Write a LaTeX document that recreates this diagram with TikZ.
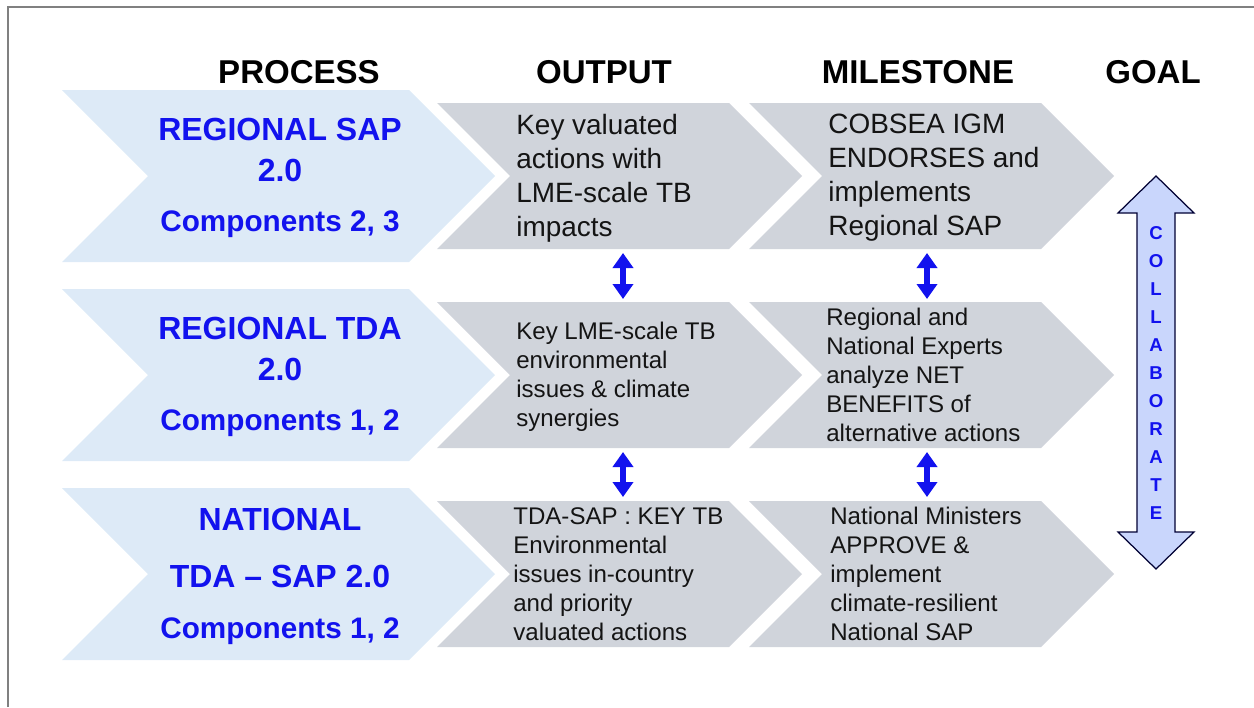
\documentclass[tikz,border=0pt]{standalone}
\usepackage{fontspec}
\setmainfont{Liberation Sans}
\usepackage{xcolor}
\usetikzlibrary{arrows.meta}
\definecolor{procblue}{RGB}{221,234,247}
\definecolor{outgray}{RGB}{208,212,219}
\definecolor{textblue}{RGB}{18,18,238}
\definecolor{collabfill}{RGB}{201,214,252}
\definecolor{framegray}{RGB}{128,128,128}
\tikzset{
	header/.style={font=\bfseries\fontsize{18.8}{22}\selectfont, text=black, anchor=base},
	proc/.style={font=\bfseries\fontsize{18.2}{22.8}\selectfont, text=textblue, align=center},
	comp/.style={font=\bfseries\fontsize{16.9}{19}\selectfont, text=textblue, anchor=base},
	outtext/.style={anchor=west, align=left, text=black!92, inner sep=0pt},
	big/.style={font=\fontsize{15.9}{19.35}\selectfont},
	small/.style={font=\fontsize{13.7}{16.5}\selectfont},
	link/.style={draw=textblue, line width=3.6pt, {Triangle[width=0.4cm,length=0.3cm]}-{Triangle[width=0.4cm,length=0.3cm]}}
}
% fill, left x, top y, body width, height
\newcommand{\chevron}[5]{\fill[#1] (#2,#3) -- ++(#4,0) -- ++(#5/2,#5/2) -- ++(-#5/2,#5/2) -- ++(-#4,0) -- ++(#5/2,-#5/2) -- cycle;}

\begin{document}
\begin{tikzpicture}[x=0.02cm, y=-0.02cm]
	\useasboundingbox (0,0) rectangle (1254,707);
	\draw[framegray, line width=1.1pt] (8,707) -- (8,7) -- (1254,7);
	
	% chevrons
	\foreach \y in {90,289,488} {\chevron{procblue}{62}{\y}{347}{172}}
	\foreach \y in {103,302,501} {
		\chevron{outgray}{437}{\y}{292}{146}
		\chevron{outgray}{749}{\y}{292}{146}
	}
	
	% headers
	\node[header] (hp) at (299,83) {PROCESS};
	\node[header] (ho) at (604,83) {OUTPUT};
	\node[header] (hm) at (918,83) {MILESTONE};
	\node[header] (hg) at (1153,83) {GOAL};
	
	% process
	\node[proc] (p1) at (280,150) {REGIONAL SAP\\2.0};
	\node[comp] (c1) at (280,231) {Components 2, 3};
	\node[proc] (p2) at (280,349) {REGIONAL TDA\\2.0};
	\node[comp] (c2) at (280,430) {Components 1, 2};
	\node[proc, font=\bfseries\fontsize{18.2}{31.9}\selectfont] (p3) at (280,548) {NATIONAL\\TDA – SAP 2.0};
	\node[comp] (c3) at (280,638) {Components 1, 2};
	
	% output and milestone
	\node[outtext, big] (o1) at (516,178) {Key valuated\\actions with\\LME-scale TB\\impacts};
	\node[outtext, big] (m1) at (828,178) {COBSEA IGM\\ENDORSES and\\implements\\Regional SAP};
	\node[outtext, small] (o2) at (516,377) {Key LME-scale TB\\environmental\\issues \& climate\\synergies};
	\node[outtext, small] (m2) at (826,375) {Regional and\\National Experts\\analyze NET\\BENEFITS of\\alternative actions};
	\node[outtext, small] (o3) at (513,574) {TDA-SAP : KEY TB\\Environmental\\issues in-country\\and priority\\valuated actions};
	\node[outtext, small] (m3) at (830,574) {National Ministers\\APPROVE \&\\implement\\climate-resilient\\National SAP};
	
	% links between rows
	\coordinate (o1s) at (623,253); \coordinate (o2n) at (623,299);
	\coordinate (o2s) at (623,452); \coordinate (o3n) at (623,497);
	\coordinate (m1s) at (927,253); \coordinate (m2n) at (927,299);
	\coordinate (m2s) at (927,452); \coordinate (m3n) at (927,497);
	\draw[link] (o1s) -- (o2n);
	\draw[link] (o2s) -- (o3n);
	\draw[link] (m1s) -- (m2n);
	\draw[link] (m2s) -- (m3n);
	
	% goal arrow
	\filldraw[fill=collabfill, draw=black!80!blue, line width=0.7pt] (1156,176) -- (1194,213) -- (1175,213) -- (1175,532) -- (1194,532) -- (1156,569) -- (1118,532) -- (1137,532) -- (1137,213) -- (1118,213) -- cycle;
	\node[align=center, text=textblue, font=\bfseries\fontsize{10.6}{15.9}\selectfont] (collab) at (1156,373) {C\\O\\L\\L\\A\\B\\O\\R\\A\\T\\E};
\end{tikzpicture}
\end{document}
